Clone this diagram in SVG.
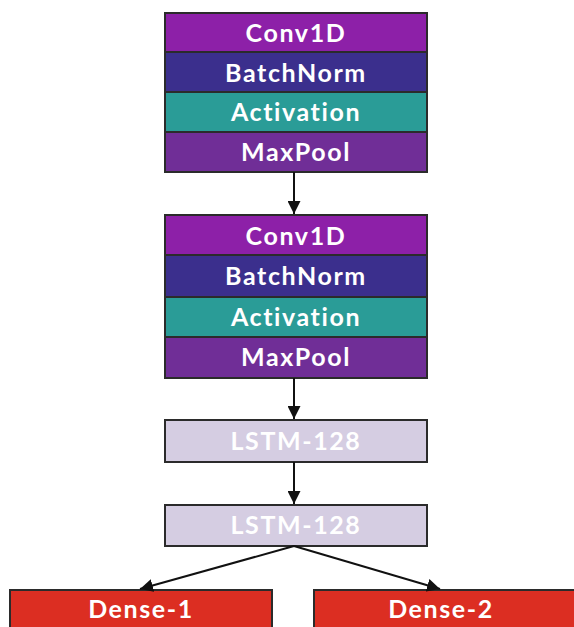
<svg xmlns="http://www.w3.org/2000/svg" width="574" height="627" viewBox="0 0 574 627">
<defs>
<marker id="ah" viewBox="0 0 10 10" refX="10" refY="5" markerWidth="6.5" markerHeight="6.5" orient="auto" markerUnits="strokeWidth">
<path d="M0,0 L10,5 L0,10 z" fill="#111"/>
</marker>
<style>
.box{stroke:#2b2b2b;stroke-width:2}
.t{font-family:Lato,"Open Sans","DejaVu Sans",sans-serif;font-weight:bold;font-size:25px;letter-spacing:1.6px;font-variant-ligatures:none;fill:#fff;text-anchor:middle;dominant-baseline:central}
.conv{fill:#8d20a8}
.bn{fill:#3b2f8d}
.act{fill:#2a9c97}
.mp{fill:#702e97}
.lstm{fill:#d5cde2}
.dense{fill:#dc2e22}
.c{stroke:#111;stroke-width:2;fill:none;marker-end:url(#ah)}
</style>
</defs>
<rect width="574" height="627" fill="#fff"/>
<g id="block1">
<rect class="box conv" x="165" y="13" width="262" height="39"/>
<text class="t" x="296" y="32">Conv1D</text>
<rect class="box bn" x="165" y="52" width="262" height="40"/>
<text class="t" x="296" y="72">BatchNorm</text>
<rect class="box act" x="165" y="92" width="262" height="40"/>
<text class="t" x="296" y="111">Activation</text>
<rect class="box mp" x="165" y="132" width="262" height="40"/>
<text class="t" x="296" y="151">MaxPool</text>
</g>
<g id="block2">
<rect class="box conv" x="165" y="215" width="262" height="40"/>
<text class="t" x="296" y="235">Conv1D</text>
<rect class="box bn" x="165" y="255" width="262" height="42"/>
<text class="t" x="296" y="275">BatchNorm</text>
<rect class="box act" x="165" y="297" width="262" height="40"/>
<text class="t" x="296" y="316">Activation</text>
<rect class="box mp" x="165" y="337" width="262" height="41"/>
<text class="t" x="296" y="356">MaxPool</text>
</g>
<g id="lstm1">
<rect class="box lstm" x="165" y="420" width="262" height="42"/>
<text class="t" x="296" y="440">LSTM-128</text>
</g>
<g id="lstm2">
<rect class="box lstm" x="165" y="505" width="262" height="41"/>
<text class="t" x="296" y="524">LSTM-128</text>
</g>
<g id="dense1">
<rect class="box dense" x="10" y="590" width="262" height="45"/>
<text class="t" x="141" y="608">Dense-1</text>
</g>
<g id="dense2">
<rect class="box dense" x="314" y="590" width="268" height="45"/>
<text class="t" x="441" y="608">Dense-2</text>
</g>
<g id="connectors">
<line class="c" x1="294" y1="172" x2="294" y2="214"/>
<line class="c" x1="294" y1="378" x2="294" y2="419"/>
<line class="c" x1="294" y1="462" x2="294" y2="504"/>
<line class="c" x1="294" y1="546" x2="140" y2="589"/>
<line class="c" x1="294" y1="546" x2="440" y2="589"/>
</g>
</svg>
